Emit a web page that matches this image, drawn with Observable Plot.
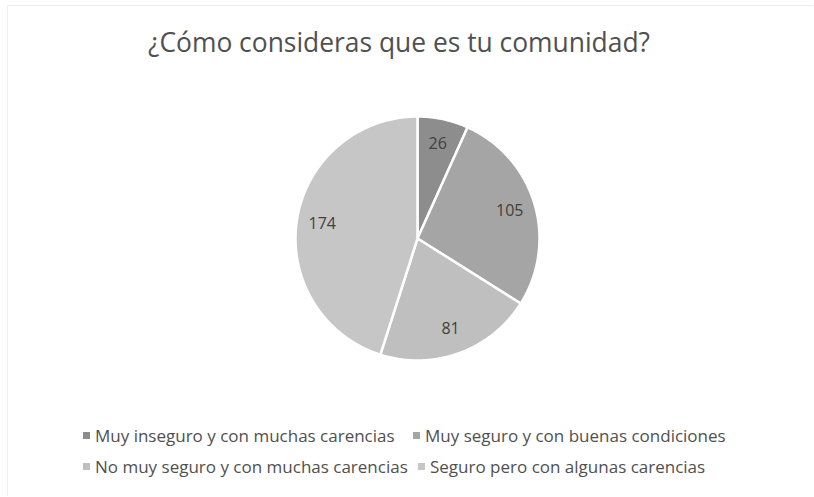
<!DOCTYPE html>
<html>
<head>
<meta charset="utf-8">
<script src="https://cdn.jsdelivr.net/npm/d3@7"></script>
<script src="https://cdn.jsdelivr.net/npm/@observablehq/plot@0.6"></script>
<style>
  html, body { margin: 0; padding: 0; background: #fff; }
  body { width: 814px; height: 497px; overflow: hidden; position: relative; font-family: "Open Sans", sans-serif; }
  #frame { position: absolute; left: 7px; top: 5px; width: 805px; height: 490px; border-left: 1px solid #eeeeee; border-top: 1px solid #eeeeee; }
  #title { position: absolute; left: -8px; top: 24px; width: 814px; text-align: center; font-size: 26.4px; color: #505050; }
  #chart { position: absolute; left: 0; top: 103px; }
  #legend { position: absolute; left: 0; top: 0; width: 814px; font-size: 17px; color: #505050; }
  .item { position: absolute; white-space: nowrap; }
  .sw { display: inline-block; width: 7px; height: 7px; margin-right: 5px; vertical-align: middle; position: relative; top: -2px; }
</style>
</head>
<body>
<div id="frame"></div>
<div id="title">¿Cómo consideras que es tu comunidad?</div>
<div id="chart"></div>
<div id="legend"></div>
<script>
const categories = [
  "Muy inseguro y con muchas carencias",
  "Muy seguro y con buenas condiciones",
  "No muy seguro y con muchas carencias",
  "Seguro pero con algunas carencias"
];
const values = [26, 105, 81, 174];
const colors = ["#8d8d8d", "#a5a5a5", "#bfbfbf", "#c6c6c6"];

const R = 122;               // radius in px
const W = 814, H = 270;      // svg size
const cx = 417, cy = 135;    // centre in svg px

const pie = d3.pie().sort(null).value(d => d.value)(
  categories.map((c, i) => ({category: c, value: values[i]}))
);

// polygon vertices of each slice (unit radius), y up
const pts = [];
pie.forEach(s => {
  const n = Math.max(2, Math.ceil((s.endAngle - s.startAngle) / 0.01));
  pts.push({category: s.data.category, x: 0, y: 0});
  for (let k = 0; k <= n; k++) {
    const a = s.startAngle + (s.endAngle - s.startAngle) * k / n;
    pts.push({category: s.data.category, x: Math.sin(a), y: Math.cos(a)});
  }
  pts.push({category: s.data.category, x: 0, y: 0});
});

const labels = pie.map(s => {
  const a = (s.startAngle + s.endAngle) / 2;
  return {value: s.data.value, x: 0.79 * Math.sin(a), y: 0.79 * Math.cos(a)};
});

const plot = Plot.plot({
  width: W, height: H,
  margin: 0,
  x: {domain: [-cx / R, (W - cx) / R], axis: null},
  y: {domain: [-(H - cy) / R, cy / R], axis: null},
  color: {domain: categories, range: colors},
  marks: [
    Plot.line(pts, {x: "x", y: "y", z: "category", fill: "category", stroke: "white", strokeWidth: 2.5, strokeLinejoin: "round", curve: "linear"}),
    Plot.text(labels, {x: "x", y: "y", text: d => String(d.value), fontSize: 16, fill: "#404040", fontFamily: "Open Sans"})
  ]
});
document.getElementById("chart").appendChild(plot);

// legend
const legend = document.getElementById("legend");
const pos = [[83, 424], [413, 424], [83, 455], [418, 455]];
categories.forEach((c, i) => {
  const d = document.createElement("div");
  d.className = "item";
  d.style.left = pos[i][0] + "px";
  d.style.top = pos[i][1] + "px";
  d.innerHTML = `<span class="sw" style="background:${colors[i]}"></span>${c}`;
  legend.appendChild(d);
});
</script>
</body>
</html>
